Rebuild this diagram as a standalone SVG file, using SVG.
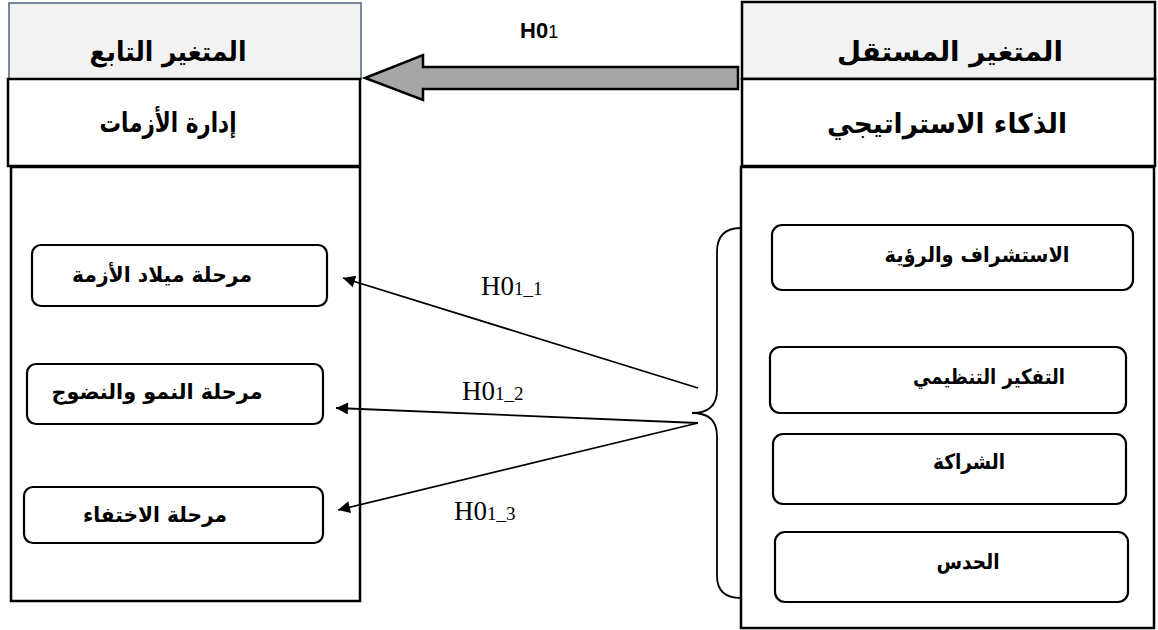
<svg xmlns="http://www.w3.org/2000/svg" width="1158" height="630" viewBox="0 0 1158 630">
<defs>
<style>
.box{fill:#ffffff;stroke:#000000;stroke-width:2.5}
.hdr{fill:#f2f2f2;stroke:#000000;stroke-width:2.5}
.hdrL{fill:#f2f2f2;stroke:#4f6278;stroke-width:1.5}
.sub{fill:#ffffff;stroke:#000000;stroke-width:2.2}
.ar{font-family:"DejaVu Sans","Noto Sans",sans-serif;font-weight:bold;fill:#000;text-anchor:middle;direction:rtl}
.t1{font-size:27px}
.t3{font-size:21px}
.lbl{font-family:"Liberation Serif","Times New Roman",serif;fill:#000}
.con{fill:none;stroke:#000;stroke-width:1.8}
</style>
<marker id="ah2" viewBox="0 0 10 10" refX="10" refY="5" markerWidth="14" markerHeight="12" markerUnits="userSpaceOnUse" orient="auto">
<path d="M0,0 L10,5 L0,10 z" fill="#000"/>
</marker>
</defs>

<g id="left-header">
<rect class="hdrL" x="9" y="3" width="352" height="76"/>
<text class="ar t1" x="168" y="61" textLength="157" lengthAdjust="spacingAndGlyphs">المتغير التابع</text>
</g>
<g id="left-title">
<rect class="box" x="8" y="79" width="352" height="87"/>
<text class="ar t1" x="168" y="132" textLength="137" lengthAdjust="spacingAndGlyphs">إدارة الأزمات</text>
</g>
<g id="left-body">
<rect class="box" x="11" y="167" width="349" height="434"/>
</g>
<g id="stage-birth">
<rect class="sub" x="32" y="245" width="295" height="61" rx="9"/>
<text class="ar t3" x="162" y="282" textLength="180" lengthAdjust="spacingAndGlyphs">مرحلة ميلاد الأزمة</text>
</g>
<g id="stage-growth">
<rect class="sub" x="27" y="364" width="296" height="60" rx="9"/>
<text class="ar t3" x="157" y="399" textLength="211" lengthAdjust="spacingAndGlyphs">مرحلة النمو والنضوج</text>
</g>
<g id="stage-fade">
<rect class="sub" x="24" y="487" width="299" height="56" rx="9"/>
<text class="ar t3" x="155" y="522" textLength="144" lengthAdjust="spacingAndGlyphs">مرحلة الاختفاء</text>
</g>

<g id="right-header">
<rect class="hdr" x="742" y="2" width="413" height="77"/>
<text class="ar t1" x="950" y="61" textLength="226" lengthAdjust="spacingAndGlyphs">المتغير المستقل</text>
</g>
<g id="right-title">
<rect class="box" x="742" y="79" width="413" height="87"/>
<text class="ar t1" x="947" y="133" textLength="240" lengthAdjust="spacingAndGlyphs">الذكاء الاستراتيجي</text>
</g>
<g id="right-body">
<rect class="box" x="741" y="167" width="413" height="461"/>
</g>
<g id="dim-foresight">
<rect class="sub" x="772" y="225" width="361" height="65" rx="10"/>
<text class="ar t3" x="977" y="262" textLength="185" lengthAdjust="spacingAndGlyphs">الاستشراف والرؤية</text>
</g>
<g id="dim-thinking">
<rect class="sub" x="770" y="347" width="356" height="66" rx="10"/>
<text class="ar t3" x="989" y="384" textLength="152" lengthAdjust="spacingAndGlyphs">التفكير التنظيمي</text>
</g>
<g id="dim-partnership">
<rect class="sub" x="773" y="434" width="353" height="70" rx="10"/>
<text class="ar t3" x="969" y="469" textLength="72" lengthAdjust="spacingAndGlyphs">الشراكة</text>
</g>
<g id="dim-intuition">
<rect class="sub" x="775" y="532" width="353" height="70" rx="10"/>
<text class="ar t3" x="968" y="569" textLength="63" lengthAdjust="spacingAndGlyphs">الحدس</text>
</g>

<g id="connectors">
<polygon points="738,67 423,67 423,55 365,78 423,100 423,89 738,89" fill="#a6a6a6" stroke="#000" stroke-width="2.5" stroke-linejoin="miter"/>
<text x="520" y="38" style="font-family:'Liberation Sans',Arial,sans-serif"><tspan font-size="22" font-weight="bold">H0</tspan><tspan font-size="18">1</tspan></text>
<path class="con" d="M741,228 Q717,228 717,252 L717,390 Q717,413 692,413 Q717,413 717,436 L717,576 Q717,598 741,598"/>
<line class="con" x1="698" y1="388" x2="343" y2="278" marker-end="url(#ah2)"/>
<line class="con" x1="698" y1="423" x2="336" y2="408" marker-end="url(#ah2)"/>
<line class="con" x1="698" y1="423" x2="338" y2="510" marker-end="url(#ah2)"/>
<text class="lbl" x="481" y="295"><tspan font-size="27">H0</tspan><tspan font-size="19">1_1</tspan></text>
<text class="lbl" x="462" y="400"><tspan font-size="27">H0</tspan><tspan font-size="19">1_2</tspan></text>
<text class="lbl" x="454" y="520"><tspan font-size="27">H0</tspan><tspan font-size="19">1_3</tspan></text>
</g>
</svg>
